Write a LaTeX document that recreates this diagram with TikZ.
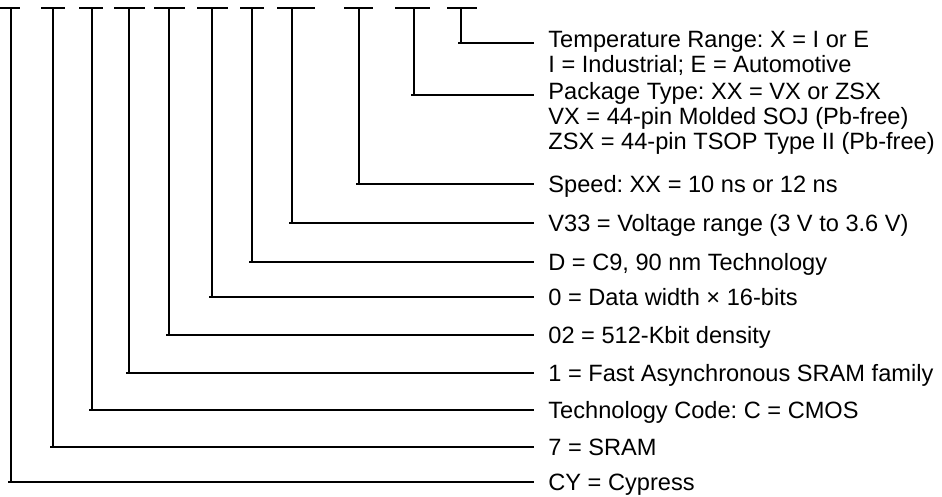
\documentclass[tikz,border=0pt]{standalone}
\usepackage{fontspec}
\setmainfont{Liberation Sans}
\frenchspacing
\begin{document}
\begin{tikzpicture}[x=0.5pt,y=-0.5pt,
  lbl/.style={anchor=west, inner xsep=7pt, inner ysep=0pt, text height=8.45pt, text depth=0pt, font=\fontsize{11.8}{14}\selectfont\frenchspacing},
  wire/.style={line width=1.1pt},
  dashbar/.style={line width=1.1pt}]
\useasboundingbox (0,0) rectangle (942,497);
% top dashes and their vertical start points
\foreach \l/\r/\v/\n in {0/20/11/1, 41/65/53/2, 79/103/92/3, 114/145/129/4, 154/185/169/5, 197/228/212/6, 240/264/252/7, 277/315/292/8, 344/373/359/9, 395/430/414/10, 447/477/461/11}{
  \draw[dashbar] (\l,8) -- (\r,8);
  \coordinate (v\n) at (\v,8);
}
% labels
\node[lbl] (t11) at (534,39) {Temperature Range: X = I or E};
\node[lbl] (t11b) at (534,64) {I = Industrial; E = Automotive};
\coordinate (e11) at (534,43);
\node[lbl] (t10) at (534,91) {Package Type: XX = VX or ZSX};
\node[lbl] (t10b) at (534,116) {VX = 44-pin Molded SOJ (Pb-free)};
\node[lbl] (t10c) at (534,141) {ZSX = 44-pin TSOP Type II (Pb-free)};
\coordinate (e10) at (534,95);
\node[lbl] (t9) at (534,184) {Speed: XX = 10 ns or 12 ns};
\node[lbl] (t8) at (534,223) {V33 = Voltage range (3 V to 3.6 V)};
\node[lbl] (t7) at (534,262) {D = C9, 90 nm Technology};
\node[lbl] (t6) at (534,297) {0 = Data width × 16-bits};
\node[lbl] (t5) at (534,335) {02 = 512-Kbit density};
\node[lbl] (t4) at (534,373) {1 = Fast Asynchronous SRAM family};
\node[lbl] (t3) at (534,410) {Technology Code: C = CMOS};
\node[lbl] (t2) at (534,447) {7 = SRAM};
\node[lbl] (t1) at (534,482) {CY = Cypress};
\coordinate (e9) at (t9.west);
\coordinate (e8) at (t8.west);
\coordinate (e7) at (t7.west);
\coordinate (e6) at (t6.west);
\coordinate (e5) at (t5.west);
\coordinate (e4) at (t4.west);
\coordinate (e3) at (t3.west);
\coordinate (e2) at (t2.west);
\coordinate (e1) at (t1.west);
% connectors
\foreach \n in {1,...,11}{
  \draw[wire] (v\n) -- (v\n |- e\n);
  \draw[wire] ([xshift=-1.5pt]v\n |- e\n) -- (e\n);
}
\end{tikzpicture}
\end{document}
